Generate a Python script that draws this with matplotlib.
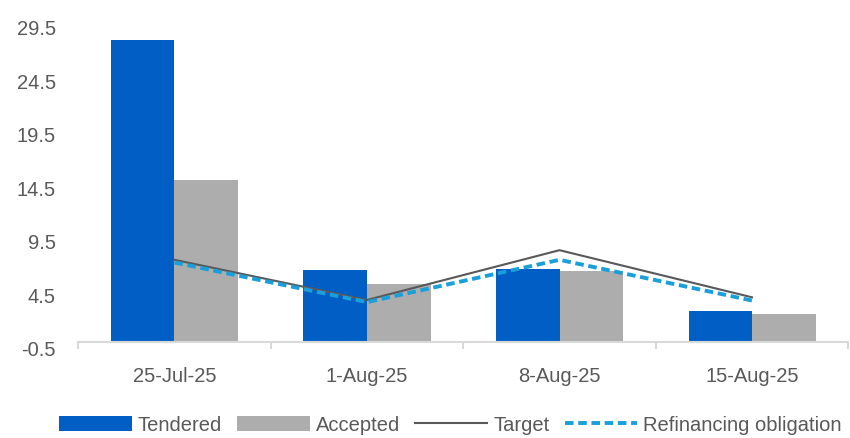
import numpy as np
import matplotlib
matplotlib.use("Agg")
import matplotlib.pyplot as plt
import matplotlib.transforms as mtransforms
from matplotlib.ticker import FixedLocator

# data
dates = ["25-Jul-25", "1-Aug-25", "8-Aug-25", "15-Aug-25"]
tendered = [27.7, 6.25, 6.35, 2.45]
accepted = [14.65, 4.95, 6.15, 2.15]
target = [7.2, 3.45, 8.1, 3.7]
refinancing = [6.95, 3.25, 7.2, 3.4]
yticks = [-0.5, 4.5, 9.5, 14.5, 19.5, 24.5, 29.5]

TXT = "#595959"
plt.rcParams['font.family'] = ['Liberation Sans', 'DejaVu Sans']

fig = plt.figure(figsize=(8.5, 4.39), dpi=100)
ax = fig.add_axes([0.092, 0.218, 0.906, 0.732])

x = np.arange(len(dates))
w = 0.33
base = yticks[0]
b1 = ax.bar(x - w / 2, np.array(tendered) - base, w, bottom=base, color="#005EC4", label="Tendered", zorder=2)
b2 = ax.bar(x + w / 2, np.array(accepted) - base, w, bottom=base, color="#ADADAD", label="Accepted", zorder=2)
l1, = ax.plot(x, target, color="#595959", lw=1.5, label="Target", zorder=3)
l2, = ax.plot(x, refinancing, color="#199FD9", lw=2.8, ls=(0, (2.2, 1.2)), label="Refinancing obligation", zorder=4)

ax.set_xlim(-0.5, len(dates) - 0.5)
ax.set_ylim(yticks[0], yticks[-1])
ax.set_yticks(yticks)
ax.set_yticklabels([f"{t:g}" for t in yticks])
ax.set_xticks(x)
ax.set_xticklabels(dates)
ax.xaxis.set_minor_locator(FixedLocator(np.arange(-0.5, len(dates), 1.0)))

for s in ["top", "right", "left"]:
    ax.spines[s].set_visible(False)
ax.spines["bottom"].set_color("#D9D9D9")
ax.spines["bottom"].set_linewidth(1.5)

ax.tick_params(axis="y", length=0, pad=16, labelsize=14.5, labelcolor=TXT)
ax.tick_params(axis="x", which="major", length=0, pad=17, labelsize=14.5, labelcolor=TXT)
ax.tick_params(axis="x", which="minor", length=5, width=1.5, color="#D9D9D9")

# y labels sit slightly below their values in the reference
shift = mtransforms.ScaledTranslation(0, -4 / 72, fig.dpi_scale_trans)
for lab in ax.get_yticklabels():
    lab.set_transform(lab.get_transform() + shift)

leg = fig.legend([b1, b2, l1, l2], ["Tendered", "Accepted", "Target", "Refinancing obligation"],
                 loc="center", bbox_to_anchor=(0.53, 0.03), ncol=4, frameon=False,
                 handlelength=3.6, handleheight=0.8, handletextpad=0.3,
                 columnspacing=0.75, prop={'size': 14.5})
for t in leg.get_texts():
    t.set_color(TXT)

fig.savefig("out.png", dpi=100)
